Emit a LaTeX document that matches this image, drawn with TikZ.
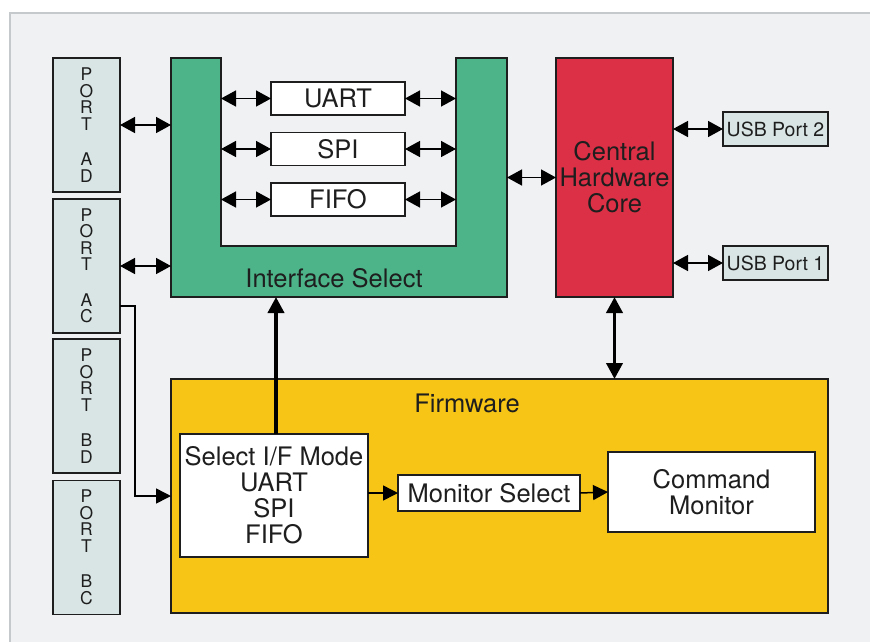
\documentclass[tikz,border=0pt]{standalone}
\usepackage{fontspec}
\setmainfont{TeX Gyre Heros}
\usetikzlibrary{arrows.meta}
\definecolor{panelbg}{RGB}{240,241,243}
\definecolor{panelbd}{RGB}{198,201,204}
\definecolor{portfill}{RGB}{216,229,228}
\definecolor{greenis}{RGB}{77,179,137}
\definecolor{redcore}{RGB}{220,48,70}
\definecolor{yellowfw}{RGB}{246,197,21}
\definecolor{linec}{RGB}{30,30,30}
\newcommand\mybigfont{\fontsize{25.5}{26}\selectfont}
\newcommand\myusbfont{\fontsize{19.5}{20}\selectfont}
\newcommand\myportfont{\fontsize{17.5}{16.5}\selectfont}
\begin{document}
\begin{tikzpicture}[x=1pt,y=-1pt,
  box/.style={draw=linec, line width=1.3pt, inner sep=0pt, outer sep=0pt, align=center, font=\mybigfont, text=linec},
  portbox/.style={box, fill=portfill, minimum width=67pt, minimum height=134pt, font=\myportfont},
  usbbox/.style={box, fill=portfill, minimum width=105pt, minimum height=34pt, font=\myusbfont},
  whitebox/.style={box, fill=white},
  ghost/.style={inner sep=0pt, outer sep=0pt},
  dbl/.style={line width=1.5pt, draw=black, {Triangle[length=15pt,width=16pt]}-{Triangle[length=15pt,width=16pt]}},
  arr/.style={line width=1.5pt, draw=black, -{Triangle[length=15pt,width=15pt]}},
  thick1/.style={line width=3.8pt, draw=black, -{Triangle[length=16pt,width=16pt]}},
  thick2/.style={line width=3.8pt, draw=black, {Triangle[length=16pt,width=16pt]}-{Triangle[length=16pt,width=16pt]}},
  lbl/.style={inner sep=0pt, font=\mybigfont, text=linec}
]
\useasboundingbox (0,0) rectangle (870,641);
\clip (0,0) rectangle (870,641);
\fill[white] (0,0) rectangle (870,641);
\draw[fill=panelbg, draw=panelbd, line width=2pt] (10,13) rectangle (880,660);

% ports
\node[portbox] (pad) at (86.5,125) {P\\O\\R\\T\\[19pt]A\\D};
\node[portbox] (pac) at (86.5,266) {P\\O\\R\\T\\[19pt]A\\C};
\node[portbox] (pbd) at (86.5,406) {P\\O\\R\\T\\[19pt]B\\D};
\node[portbox] (pbc) at (86.5,547.5) {P\\O\\R\\T\\[19pt]B\\C};

% interface select U shape
\draw[fill=greenis, draw=linec, line width=1.3pt]
  (171,58) -- (221,58) -- (221,246) -- (456,246) -- (456,58) -- (507,58) -- (507,297) -- (171,297) -- cycle;
\node[ghost, minimum width=336pt, minimum height=239pt] (isel) at (339,177.5) {};
\node[ghost, minimum width=235pt, minimum height=188pt] (iselin) at (338.5,152) {};
\node[lbl] (isellbl) at (334,278) {Interface Select};

\node[whitebox, minimum width=134pt, minimum height=33pt] (uart) at (338,98.5) {UART};
\node[whitebox, minimum width=134pt, minimum height=33pt] (spi) at (338,149) {SPI};
\node[whitebox, minimum width=134pt, minimum height=33pt] (fifo) at (338,199.5) {FIFO};

% core
\node[box, fill=redcore, minimum width=117pt, minimum height=239pt] (core) at (614.5,177.5) {Central\\Hardware\\Core};

% usb
\node[usbbox] (usb2) at (775.5,129) {USB Port 2};
\node[usbbox] (usb1) at (775.5,263) {USB Port 1};

% firmware
\node[box, fill=yellowfw, minimum width=657pt, minimum height=234pt] (fw) at (499.5,496) {};
\node[lbl] (fwlbl) at (467,403) {Firmware};
\node[whitebox, minimum width=188pt, minimum height=123pt] (selif) at (274,495.5) {Select I/F Mode\\UART\\SPI\\FIFO};
\node[whitebox, minimum width=182pt, minimum height=36pt] (msel) at (489,493) {Monitor Select};
\node[whitebox, minimum width=207pt, minimum height=80pt] (cmd) at (711.5,492) {Command\\Monitor};

% connectors
\draw[dbl] (pad.east) -- (pad.east -| isel.west);
\draw[dbl] (pac.east) -- (pac.east -| isel.west);
\foreach \b in {uart,spi,fifo}{
  \draw[dbl] (iselin.west |- \b) -- (\b.west);
  \draw[dbl] (\b.east) -- (iselin.east |- \b);
}
\draw[dbl] (isel.east |- core) -- (core.west);
\draw[dbl] (core.east |- usb2) -- (usb2.west);
\draw[dbl] (core.east |- usb1) -- (usb1.west);
\draw[thick1] ([xshift=2pt]selif.north) -- ([xshift=2pt]selif.north |- isel.south);
\draw[thick2] (core.south |- fw.north) -- (core.south);
\draw[arr] ([yshift=-40pt]pac.east) -- ++(15,0) |- (fw.west);
\draw[arr] (selif.east |- msel) -- (msel.west);
\draw[arr] (msel.east) -- (cmd.west);
\end{tikzpicture}
\end{document}
